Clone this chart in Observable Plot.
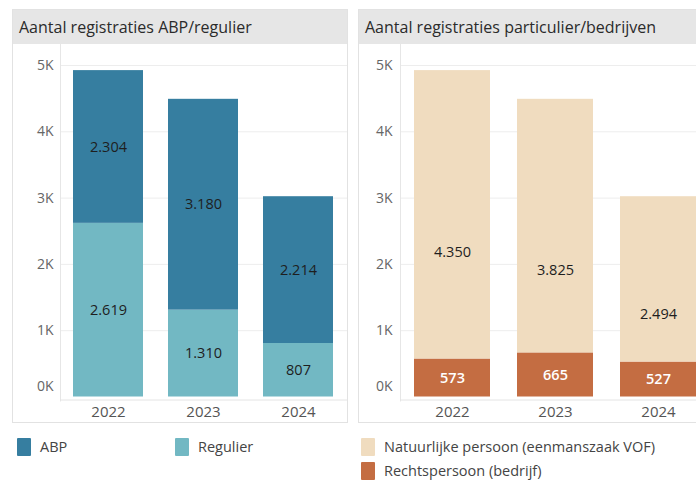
<!DOCTYPE html>
<html>
<head>
<meta charset="utf-8">
<script src="https://cdn.jsdelivr.net/npm/d3@7"></script>
<script src="https://cdn.jsdelivr.net/npm/@observablehq/plot@0.6"></script>
<style>
  html, body { margin: 0; padding: 0; background: #fff; }
  body { width: 696px; height: 480px; overflow: hidden; position: relative; font-family: "Open Sans", sans-serif; }
  .panel { position: absolute; top: 9px; height: 412px; border: 1px solid #e2e2e2; box-sizing: content-box; background: #fff; }
  .header { height: 34px; line-height: 34px; background: #e6e6e6; color: #2b2b2b; font-size: 16px; padding-left: 6px; white-space: nowrap; }
  .chart { position: absolute; left: 0; top: 34px; }
  .legend-item { position: absolute; display: flex; align-items: center; font-size: 14.5px; color: #444; white-space: nowrap; }
  .swatch { width: 14px; height: 18px; border-radius: 1px; margin-right: 9px; }
</style>
</head>
<body>
<div id="left" class="panel" style="left:12px; width:334px;"><div class="header">Aantal registraties ABP/regulier</div></div>
<div id="right" class="panel" style="left:358px; width:360px;"><div class="header">Aantal registraties particulier/bedrijven</div></div>
<div id="legend"></div>
<script>
const years = ["2022", "2023", "2024"];
const regulier = [2619, 1310, 807];
const abp = [2304, 3180, 2214];
const rechtspersoon = [573, 665, 527];
const natuurlijk = [4350, 3825, 2494];
const yTicks = [0, 1000, 2000, 3000, 4000, 5000];
const leftSeries = ["ABP", "Regulier"];
const leftColors = ["#367ea0", "#72b8c3"];
const rightSeries = ["Natuurlijke persoon (eenmanszaak VOF)", "Rechtspersoon (bedrijf)"];
const rightColors = ["#f0dcbf", "#c46d42"];

const nl = d3.formatLocale({decimal: ",", thousands: ".", grouping: [3], currency: ["€", ""]});
const fmt = nl.format(",d");

// bottom series first so it stacks at the base
const leftData = years.flatMap((yr, i) => [
  {year: yr, series: "Regulier", value: regulier[i]},
  {year: yr, series: "ABP", value: abp[i]}
]);
const rightData = years.flatMap((yr, i) => [
  {year: yr, series: "Rechtspersoon (bedrijf)", value: rechtspersoon[i]},
  {year: yr, series: "Natuurlijke persoon (eenmanszaak VOF)", value: natuurlijk[i]}
]);

function chart(data, domain, range, width, marginLeft, tickPadding, lightSeries) {
  const tf = d => d / 1000 + "K";
  return Plot.plot({
    width, height: 379,
    marginLeft, marginRight: 0, marginTop: 21, marginBottom: 26.5,
    style: {fontFamily: "Open Sans, sans-serif", background: "transparent"},
    x: {domain: years, paddingInner: 0.26, paddingOuter: 0.13, axis: null, label: null},
    y: {domain: [0, 5000], axis: null, label: null},
    color: {domain, range},
    marks: [
      Plot.gridY(yTicks.slice(1), {stroke: "#ededed", strokeOpacity: 1}),
      Plot.frame({anchor: "left", stroke: "#e6e6e6", insetTop: -21, insetBottom: -4}),
      Plot.ruleY([0], {stroke: "#e4e4e4", dy: 3}),
      Plot.barY(data, {x: "year", y: "value", fill: "series"}),
      Plot.text(data, Plot.stackY({
        x: "year", y: "value", z: "series",
        filter: d => d.series !== lightSeries,
        text: d => fmt(d.value), fill: "#1e1e1e", fontSize: 14.5
      })),
      Plot.text(data, Plot.stackY({
        x: "year", y: "value", z: "series",
        filter: d => d.series === lightSeries,
        text: d => fmt(d.value), fill: "#ffffff", fontSize: 14.5, fontWeight: 600
      })),
      Plot.axisY(yTicks.slice(1), {tickSize: 0, tickPadding, tickFormat: tf, fontSize: 14, fill: "#666", label: null}),
      Plot.axisY([0], {tickSize: 0, tickPadding, tickFormat: tf, fontSize: 14, fill: "#666", dy: -10, label: null}),
      Plot.axisX({tickSize: 0, tickPadding: 9, fontSize: 15, fill: "#555", label: null})
    ]
  });
}

const leftChart = chart(leftData, leftSeries, leftColors, 334, 47, 7, null);
leftChart.classList.add("chart");
document.getElementById("left").appendChild(leftChart);

const rightChart = chart(rightData, rightSeries, rightColors, 352, 41, 8, "Rechtspersoon (bedrijf)");
rightChart.classList.add("chart");
document.getElementById("right").appendChild(rightChart);

// legends
const legend = document.getElementById("legend");
const items = [
  {label: leftSeries[0], color: leftColors[0], left: 17, top: 437},
  {label: leftSeries[1], color: leftColors[1], left: 175, top: 437},
  {label: rightSeries[0], color: rightColors[0], left: 361, top: 437},
  {label: rightSeries[1], color: rightColors[1], left: 361, top: 461}
];
for (const it of items) {
  const div = document.createElement("div");
  div.className = "legend-item";
  div.style.left = it.left + "px";
  div.style.top = it.top + "px";
  const sw = document.createElement("div");
  sw.className = "swatch";
  sw.style.background = it.color;
  const tx = document.createElement("span");
  tx.textContent = it.label;
  div.appendChild(sw);
  div.appendChild(tx);
  legend.appendChild(div);
}
</script>
</body>
</html>
